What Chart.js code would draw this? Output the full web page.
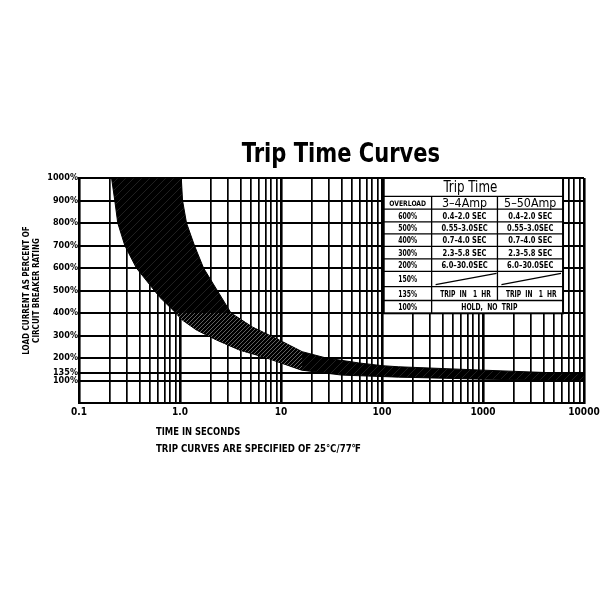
<!DOCTYPE html>
<html>
<head>
<meta charset="utf-8">
<script src="https://cdn.jsdelivr.net/npm/chart.js@4.4.0/dist/chart.umd.min.js"></script>
<style>
  html, body { margin: 0; padding: 0; background: #fff; }
</style>
</head>
<body>
<canvas id="tripChart" width="600" height="600"></canvas>
<script>
// fast edge of the trip band (time in s, load in %)
const fastTime = [0.21, 0.226, 0.242, 0.284, 0.37, 0.63, 0.85, 1.06, 1.46, 2.3, 3.9, 7.0, 16, 40, 146, 1000, 10000];
const fastLoad = [1000, 900, 800, 700, 600, 470, 413, 368, 324, 280, 235, 202, 146, 124, 115, 106, 98];
// slow edge of the trip band
const slowTime = [1.03, 1.06, 1.16, 1.39, 1.71, 2.34, 3.2, 5.2, 9.6, 16.2, 28, 59, 100, 146, 1000, 10000];
const slowLoad = [1000, 900, 800, 700, 600, 500, 400, 338, 280, 228, 200, 178, 166, 161, 146, 129];
// hatched part of the band
const hatchTime = [0.9, 3.2, 5.2, 9.6, 16.2, 16.2, 7.0, 3.9, 2.3, 1.46, 1.06, 0.9];
const hatchLoad = [400, 400, 338, 280, 228, 146, 202, 235, 280, 324, 368, 400];

const yTicks = [100, 135, 200, 300, 400, 500, 600, 700, 800, 900, 1000];
const xDecades = [0.1, 1, 10, 100, 1000, 10000];
const xDecadeLabels = ['0.1', '1.0', '10', '100', '1000', '10000'];

// table text
const overloadRows = ['600%', '500%', '400%', '300%', '200%', '150%', '135%', '100%'];
const amp34 = ['0.4–2.0 SEC', '0.55–3.0SEC', '0.7–4.0 SEC', '2.3–5.8 SEC', '6.0–30.0SEC'];
const amp550 = ['0.4–2.0 SEC', '0.55–3.0SEC', '0.7–4.0 SEC', '2.3–5.8 SEC', '6.0–30.0SEC'];

const NARROW = "'Liberation Sans Narrow', 'DejaVu Sans Condensed', sans-serif";

const toPts = (xs, ys) => xs.map((x, i) => ({x: x, y: ys[i]}));
const bandPts = toPts(fastTime, fastLoad).concat(toPts(slowTime, slowLoad).reverse());
bandPts.push({x: fastTime[0], y: fastLoad[0]});

const gridTimes = [];
for (let d = 0; d < 4; d++) {
  for (let k = 1; k < 10; k++) gridTimes.push(k * xDecades[d]);
}
for (let k = 1; k < 10; k++) gridTimes.push(k * 1000);
gridTimes.push(10000);

const isDecade = v => Math.abs(Math.log10(v) - Math.round(Math.log10(v))) < 1e-6;

function hatch(bg, fg, gap, w) {
  const c = document.createElement('canvas');
  c.width = gap; c.height = gap;
  const g = c.getContext('2d');
  g.fillStyle = bg;
  g.fillRect(0, 0, gap, gap);
  g.strokeStyle = fg;
  g.lineWidth = w;
  g.beginPath();
  g.moveTo(0, gap); g.lineTo(gap, 0);
  g.moveTo(-1, 1); g.lineTo(1, -1);
  g.moveTo(gap - 1, gap + 1); g.lineTo(gap + 1, gap - 1);
  g.stroke();
  return g.createPattern(c, 'repeat');
}

// text squeezed horizontally, to get a narrow face
function txt(ctx, s, x, y, font, sx, align) {
  ctx.save();
  ctx.translate(x, y);
  ctx.scale(sx, 1);
  ctx.font = font;
  ctx.textAlign = align || 'center';
  ctx.fillText(s, 0, 0);
  ctx.restore();
}

const annotate = {
  id: 'annotate',
  afterDraw(chart) {
    const ctx = chart.ctx;
    const area = chart.chartArea;
    const xs = chart.scales.x;
    ctx.save();
    ctx.fillStyle = '#000';
    ctx.textBaseline = 'alphabetic';

    txt(ctx, 'Trip Time Curves', 341, 162, 'bold 26px ' + NARROW, 0.9);

    ctx.textBaseline = 'middle';
    txt(ctx, 'TIME IN SECONDS', 156, 432, 'bold 11px ' + NARROW, 0.85, 'left');
    txt(ctx, 'TRIP CURVES ARE SPECIFIED OF 25℃/77℉', 156, 449, 'bold 11px ' + NARROW, 0.87, 'left');

    // table
    const cx = [104, 310, 1390, 6200].map(v => xs.getPixelForValue(v));
    const ry = [0, 18.3, 31.1, 43.9, 55.9, 68.3, 80.8, 93.3, 108.6, 122.5, 135.3].map(o => area.top + o);
    const L = cx[0], R = cx[3], T = ry[0], B = ry[10];
    ctx.fillStyle = '#fff';
    ctx.fillRect(L, T, R - L, B - T);
    ctx.strokeStyle = '#000';
    ctx.lineWidth = 1.3;
    ctx.beginPath();
    for (let i = 1; i < 10; i++) {
      ctx.moveTo(L, ry[i]); ctx.lineTo(R, ry[i]);
    }
    ctx.moveTo(cx[1], ry[1]); ctx.lineTo(cx[1], B);
    ctx.moveTo(cx[2], ry[1]); ctx.lineTo(cx[2], ry[9]);
    // 150% row diagonals
    ctx.moveTo(cx[1] + 4, ry[8] - 2); ctx.lineTo(cx[2] - 1, ry[7] + 2);
    ctx.moveTo(cx[2] + 4, ry[8] - 2); ctx.lineTo(cx[3] - 2, ry[7] + 2);
    ctx.stroke();
    ctx.lineWidth = 2;
    ctx.strokeRect(L, T, R - L, B - T);

    ctx.fillStyle = '#000';
    const mid = (a, b) => (a + b) / 2;
    txt(ctx, 'Trip Time', mid(L, R) - 3, mid(ry[0], ry[1]) + 1, '15px ' + NARROW, 0.88);
    txt(ctx, '3–4Amp', mid(cx[1], cx[2]), mid(ry[1], ry[2]) + 1, '13px ' + NARROW, 0.95);
    txt(ctx, '5–50Amp', mid(cx[2], cx[3]), mid(ry[1], ry[2]) + 1, '13px ' + NARROW, 0.95);
    txt(ctx, 'OVERLOAD', mid(cx[0], cx[1]), mid(ry[1], ry[2]) + 1, 'bold 7.5px ' + NARROW, 0.9);
    const cell = 'bold 8.5px ' + NARROW;
    overloadRows.forEach((t, i) => {
      txt(ctx, t, mid(cx[0], cx[1]), mid(ry[i + 2], ry[i + 3]) + 1, cell, 0.8);
    });
    amp34.forEach((t, i) => {
      txt(ctx, t, mid(cx[1], cx[2]), mid(ry[i + 2], ry[i + 3]) + 1, cell, 0.88);
      txt(ctx, amp550[i], mid(cx[2], cx[3]), mid(ry[i + 2], ry[i + 3]) + 1, cell, 0.88);
    });
    txt(ctx, 'TRIP  IN   1  HR', mid(cx[1], cx[2]) + 1, mid(ry[8], ry[9]) + 1, cell, 0.78);
    txt(ctx, 'TRIP  IN   1  HR', mid(cx[2], cx[3]) + 1, mid(ry[8], ry[9]) + 1, cell, 0.78);
    txt(ctx, 'HOLD,  NO  TRIP', mid(cx[1], cx[3]) - 8, mid(ry[9], ry[10]) + 1, cell, 0.8);
    ctx.restore();
  }
};

new Chart(document.getElementById('tripChart'), {
  type: 'scatter',
  data: {
    datasets: [{
      label: 'hatched',
      data: toPts(hatchTime, hatchLoad),
      showLine: true,
      fill: 'shape',
      backgroundColor: hatch('#000', '#7a7a7a', 4, 0.8),
      borderColor: '#000',
      borderWidth: 0,
      pointRadius: 0,
      tension: 0
    }, {
      label: 'band',
      data: bandPts,
      showLine: true,
      fill: 'shape',
      backgroundColor: hatch('#000', '#202020', 8, 1),
      borderColor: '#000',
      borderWidth: 1,
      pointRadius: 0,
      tension: 0
    }]
  },
  options: {
    responsive: false,
    animation: false,
    layout: { padding: { top: 178, left: 0, right: 0, bottom: 173 } },
    plugins: {
      legend: { display: false },
      tooltip: { enabled: false }
    },
    scales: {
      x: {
        type: 'logarithmic',
        min: 0.1,
        max: 10000,
        z: 1,
        afterBuildTicks: s => { s.ticks = gridTimes.map(v => ({value: v})); },
        afterFit: s => { s.height = 24; s.paddingRight = 16; },
        ticks: {
          autoSkip: false,
          maxRotation: 0,
          padding: 3,
          color: '#000',
          font: { family: NARROW, size: 10, weight: 'bold' },
          callback: v => {
            const i = xDecades.findIndex(d => Math.abs(d - v) < 1e-9 * Math.max(1, d));
            return i >= 0 ? xDecadeLabels[i] : '';
          }
        },
        grid: {
          color: '#000',
          lineWidth: c => (c.tick && isDecade(c.tick.value)) ? 2.6 : 1.7,
          drawTicks: false
        },
        border: { display: true, color: '#000', width: 2 }
      },
      y: {
        min: 0,
        max: 1000,
        z: 1,
        afterBuildTicks: s => { s.ticks = yTicks.map(v => ({value: v})); },
        afterFit: s => { s.width = 79; },
        ticks: {
          padding: 1,
          color: '#000',
          font: { family: NARROW, size: 9, weight: 'bold' },
          callback: v => v + '%'
        },
        grid: { color: '#000', lineWidth: 2, drawTicks: false },
        border: { display: true, color: '#000', width: 2 },
        title: {
          display: true,
          text: ['LOAD CURRENT AS PERCENT OF', 'CIRCUIT BREAKER RATING'],
          color: '#000',
          font: { family: NARROW, size: 8, weight: 'bold', lineHeight: 1.25 },
          padding: { top: 22, bottom: 0 }
        }
      }
    }
  },
  plugins: [annotate]
});
</script>
</body>
</html>
